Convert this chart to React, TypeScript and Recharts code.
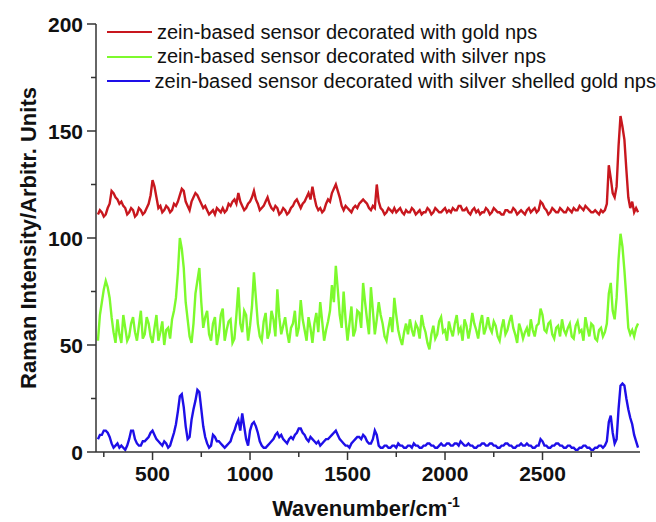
import { LineChart, Line, XAxis, YAxis, Legend, Label } from 'recharts'

const wavenumbers = [
  220, 230, 240, 250, 260, 270, 280, 290, 300, 310, 320, 330, 340, 350, 360, 370, 380, 390, 400, 410,
  420, 430, 440, 450, 460, 470, 480, 490, 500, 510, 520, 530, 540, 550, 560, 570, 580, 590, 600, 610,
  620, 630, 640, 650, 660, 670, 680, 690, 700, 710, 720, 730, 740, 750, 760, 770, 780, 790, 800, 810,
  820, 830, 840, 850, 860, 870, 880, 890, 900, 910, 920, 930, 940, 950, 960, 970, 980, 990, 1000, 1010,
  1020, 1030, 1040, 1050, 1060, 1070, 1080, 1090, 1100, 1110, 1120, 1130, 1140, 1150, 1160, 1170, 1180, 1190, 1200, 1210,
  1220, 1230, 1240, 1250, 1260, 1270, 1280, 1290, 1300, 1310, 1320, 1330, 1340, 1350, 1360, 1370, 1380, 1390, 1400, 1410,
  1420, 1430, 1440, 1450, 1460, 1470, 1480, 1490, 1500, 1510, 1520, 1530, 1540, 1550, 1560, 1570, 1580, 1590, 1600, 1610,
  1620, 1630, 1640, 1650, 1660, 1670, 1680, 1690, 1700, 1710, 1720, 1730, 1740, 1750, 1760, 1770, 1780, 1790, 1800, 1810,
  1820, 1830, 1840, 1850, 1860, 1870, 1880, 1890, 1900, 1910, 1920, 1930, 1940, 1950, 1960, 1970, 1980, 1990, 2000, 2010,
  2020, 2030, 2040, 2050, 2060, 2070, 2080, 2090, 2100, 2110, 2120, 2130, 2140, 2150, 2160, 2170, 2180, 2190, 2200, 2210,
  2220, 2230, 2240, 2250, 2260, 2270, 2280, 2290, 2300, 2310, 2320, 2330, 2340, 2350, 2360, 2370, 2380, 2390, 2400, 2410,
  2420, 2430, 2440, 2450, 2460, 2470, 2480, 2490, 2500, 2510, 2520, 2530, 2540, 2550, 2560, 2570, 2580, 2590, 2600, 2610,
  2620, 2630, 2640, 2650, 2660, 2670, 2680, 2690, 2700, 2710, 2720, 2730, 2740, 2750, 2760, 2770, 2780, 2790, 2800, 2810,
  2820, 2830, 2840, 2850, 2860, 2870, 2880, 2890, 2900, 2910, 2920, 2930, 2940, 2950, 2960, 2970, 2980, 2990,
]

// zein-based sensor decorated with gold nps
const goldNps = [
  111, 113, 112, 110, 111, 114, 116, 122, 121, 119, 118, 116, 117, 115, 114, 111, 112, 114, 113, 110,
  111, 114, 113, 111, 112, 114, 116, 120, 127, 124, 119, 114, 115, 112, 113, 115, 114, 112, 113, 116,
  115, 117, 120, 123, 122, 117, 115, 113, 117, 119, 121, 120, 118, 116, 114, 115, 113, 111, 112, 113,
  111, 114, 113, 112, 114, 112, 113, 116, 115, 117, 118, 116, 121, 117, 115, 113, 114, 116, 117, 119,
  122, 118, 116, 113, 114, 115, 117, 119, 116, 114, 113, 115, 114, 111, 112, 114, 113, 111, 112, 114,
  115, 117, 118, 116, 114, 116, 117, 119, 121, 118, 124, 119, 115, 113, 114, 112, 113, 116, 118, 117,
  121, 123, 125, 122, 119, 115, 113, 115, 114, 113, 112, 114, 115, 114, 116, 117, 118, 117, 116, 114,
  113, 115, 114, 125, 117, 114, 113, 111, 112, 114, 113, 112, 114, 112, 113, 114, 112, 111, 113, 112,
  112, 114, 113, 111, 112, 113, 111, 112, 112, 114, 113, 111, 112, 114, 113, 112, 112, 113, 114, 112,
  113, 112, 114, 113, 113, 115, 115, 113, 113, 114, 112, 111, 113, 114, 112, 113, 111, 112, 112, 114,
  113, 111, 112, 114, 113, 112, 112, 111, 111, 113, 113, 112, 112, 114, 113, 111, 112, 113, 112, 111,
  113, 114, 112, 113, 114, 112, 113, 117, 116, 114, 113, 111, 112, 114, 113, 112, 112, 114, 113, 112,
  112, 114, 113, 112, 114, 113, 113, 115, 114, 113, 115, 114, 113, 112, 112, 113, 112, 111, 113, 112,
  113, 116, 134, 128, 121, 119, 124, 143, 157, 152, 146, 132, 119, 114, 117, 112, 114, 112,
]

// zein-based sensor decorated with silver nps
const silverNps = [
  52, 64, 70, 76, 80, 77, 72, 63, 56, 51, 62, 55, 51, 64, 58, 52, 54, 60, 63, 56,
  52, 59, 66, 53, 55, 63, 60, 54, 51, 58, 64, 52, 56, 61, 50, 57, 58, 53, 62, 66,
  72, 84, 100, 95, 86, 70, 62, 54, 51, 60, 74, 80, 86, 70, 58, 63, 66, 55, 52, 60,
  63, 50, 55, 64, 67, 52, 57, 61, 62, 51, 53, 64, 77, 60, 56, 66, 64, 52, 59, 68,
  84, 72, 60, 54, 52, 61, 65, 53, 56, 66, 62, 54, 76, 63, 55, 59, 63, 56, 51, 58,
  60, 66, 54, 58, 71, 62, 57, 52, 63, 58, 51, 60, 65, 56, 70, 61, 52, 57, 61, 66,
  78, 70, 87, 76, 64, 58, 75, 62, 52, 60, 68, 54, 57, 66, 65, 58, 79, 70, 62, 55,
  77, 66, 55, 62, 70, 64, 60, 54, 52, 58, 63, 56, 72, 64, 57, 53, 50, 56, 60, 55,
  62, 57, 54, 60, 58, 53, 64, 59, 56, 51, 48, 55, 59, 53, 55, 61, 63, 56, 57, 52,
  61, 57, 54, 60, 64, 56, 58, 52, 62, 59, 53, 58, 65, 60, 57, 53, 60, 64, 55, 58,
  63, 58, 56, 61, 59, 54, 52, 58, 62, 55, 57, 61, 64, 58, 55, 51, 60, 57, 53, 56,
  58, 54, 62, 57, 54, 59, 60, 67, 64, 57, 56, 60, 61, 55, 53, 58, 59, 54, 62, 57,
  55, 58, 60, 54, 53, 59, 61, 56, 57, 52, 63, 58, 54, 60, 59, 53, 52, 57, 58, 54,
  56, 60, 74, 79, 66, 62, 72, 90, 102, 96, 85, 72, 58, 55, 57, 54, 58, 60,
]

// zein-based sensor decorated with silver shelled gold nps
const shelledNps = [
  6, 8, 8, 10, 10, 9, 7, 4, 2, 3, 4, 2, 3, 2, 1, 3, 6, 10, 10, 6,
  4, 3, 3, 5, 5, 6, 7, 9, 10, 8, 6, 5, 4, 3, 5, 4, 2, 3, 6, 9,
  13, 19, 26, 27, 21, 12, 6, 7, 15, 20, 24, 29, 28, 20, 12, 7, 4, 2, 3, 8,
  7, 5, 5, 4, 3, 2, 3, 4, 5, 8, 10, 13, 15, 10, 18, 12, 6, 3, 10, 13,
  14, 12, 9, 5, 3, 2, 2, 3, 4, 5, 6, 8, 9, 7, 8, 6, 5, 4, 6, 7,
  6, 8, 9, 11, 11, 9, 8, 6, 5, 7, 6, 5, 4, 5, 3, 4, 5, 6, 6, 7,
  8, 9, 10, 8, 6, 5, 4, 3, 3, 2, 4, 5, 6, 7, 7, 6, 8, 7, 5, 4,
  4, 6, 10, 8, 3, 2, 2, 3, 3, 2, 2, 3, 3, 2, 4, 3, 3, 2, 2, 3,
  3, 2, 4, 3, 3, 2, 2, 3, 3, 4, 4, 3, 3, 2, 2, 3, 4, 3, 3, 4,
  4, 3, 3, 4, 4, 3, 5, 4, 3, 3, 4, 3, 3, 2, 2, 3, 3, 4, 4, 3,
  3, 4, 4, 3, 3, 2, 2, 3, 3, 4, 4, 3, 3, 2, 2, 3, 3, 4, 3, 3,
  4, 3, 3, 2, 2, 3, 3, 6, 5, 3, 3, 2, 2, 3, 3, 4, 4, 3, 3, 2,
  2, 3, 3, 2, 2, 1, 1, 2, 2, 3, 3, 2, 2, 1, 1, 2, 2, 3, 3, 2,
  3, 5, 14, 17, 9, 4, 6, 20, 31, 32, 31, 25, 20, 16, 13, 8, 5, 2,
]

const xTicks = [250, 500, 750, 1000, 1250, 1500, 1750, 2000, 2250, 2500, 2750]
const yTicks = [0, 25, 50, 75, 100, 125, 150, 175, 200]

const FONT = '"Liberation Sans", Arial, sans-serif'
const AXIS = '#333'

const data = wavenumbers.map((w, i) => ({
  w,
  gold: goldNps[i],
  silver: silverNps[i],
  shelled: shelledNps[i],
}))

function XTick({ x, y, payload }: any) {
  const major = payload.value % 500 === 0
  return (
    <g>
      <line x1={x} x2={x} y1={y} y2={y + (major ? 8 : 5)} stroke={AXIS} strokeWidth={1.5} />
      {major && (
        <text x={x} y={y + 29} textAnchor="middle" fontFamily={FONT} fontWeight="bold" fontSize={21} fill="#111">
          {payload.value}
        </text>
      )}
    </g>
  )
}

function YTick({ x, y, payload }: any) {
  const major = payload.value % 50 === 0
  return (
    <g>
      <line x1={x - (major ? 9 : 5)} x2={x} y1={y} y2={y} stroke={AXIS} strokeWidth={1.5} />
      {major && (
        <text x={x - 13} y={y} dy="0.36em" textAnchor="end" fontFamily={FONT} fontWeight="bold" fontSize={21} fill="#111">
          {payload.value}
        </text>
      )}
    </g>
  )
}

function SeriesLegend({ payload }: any) {
  return (
    <div style={{ fontFamily: FONT, fontSize: 20, color: '#111' }}>
      {(payload ?? []).map((entry: any) => (
        <div key={entry.value} style={{ display: 'flex', alignItems: 'center', height: 24.5, whiteSpace: 'nowrap' }}>
          <span style={{ display: 'inline-block', width: 45, height: 2, background: entry.color, marginRight: 5 }} />
          <span>{entry.value}</span>
        </div>
      ))}
    </div>
  )
}

export default function App() {
  return (
    <div style={{ position: 'absolute', left: 0, top: 0, background: '#fff' }}>
      <LineChart width={656} height={522} data={data} margin={{ top: 24, right: 16, bottom: 10, left: 36 }}>
        <XAxis
          dataKey="w"
          type="number"
          domain={[210, 3000]}
          ticks={xTicks}
          interval={0}
          height={60}
          tickSize={0}
          tickMargin={0}
          tickLine={false}
          tick={<XTick />}
          axisLine={{ stroke: AXIS, strokeWidth: 1.5 }}
        >
          <Label
            content={() => (
              <text x={366} y={516} textAnchor="middle" fontFamily={FONT} fontWeight="bold" fontSize={22} fill="#111">
                Wavenumber/cm
                <tspan fontSize={14} dy={-9}>-1</tspan>
              </text>
            )}
          />
        </XAxis>
        <YAxis
          type="number"
          domain={[0, 200]}
          ticks={yTicks}
          interval={0}
          width={60}
          tickSize={0}
          tickMargin={0}
          tickLine={false}
          tick={<YTick />}
          axisLine={{ stroke: AXIS, strokeWidth: 1.5 }}
        >
          <Label
            content={() => (
              <text
                x={28}
                y={238}
                transform="rotate(-90 28 238)"
                textAnchor="middle"
                dominantBaseline="central"
                fontFamily={FONT}
                fontWeight="bold"
                fontSize={22}
                fill="#111"
              >
                Raman Intensity/Arbitr. Units
              </text>
            )}
          />
        </YAxis>
        <Legend
          layout="vertical"
          align="center"
          verticalAlign="middle"
          content={<SeriesLegend />}
          wrapperStyle={{ left: 107, top: 20, width: 549 }}
        />
        <Line
          type="linear"
          dataKey="gold"
          name="zein-based sensor decorated with gold nps"
          stroke="#c8171e"
          strokeWidth={2.4}
          dot={false}
          isAnimationActive={false}
        />
        <Line
          type="linear"
          dataKey="silver"
          name="zein-based sensor decorated with silver nps"
          stroke="#7dfa2d"
          strokeWidth={2.4}
          dot={false}
          isAnimationActive={false}
        />
        <Line
          type="linear"
          dataKey="shelled"
          name="zein-based sensor decorated with silver shelled gold nps"
          stroke="#1e0fe8"
          strokeWidth={2.4}
          dot={false}
          isAnimationActive={false}
        />
      </LineChart>
    </div>
  )
}
